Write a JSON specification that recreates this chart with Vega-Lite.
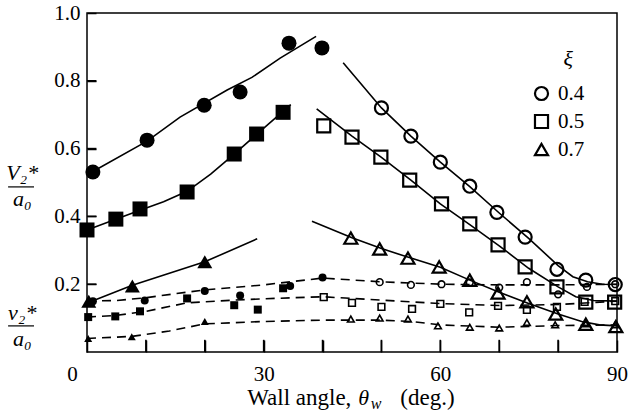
{
  "$schema": "https://vega.github.io/schema/vega-lite/v6.json",
  "width": 530,
  "height": 339,
  "autosize": {"type": "none"},
  "padding": {"left": 87, "top": 13, "right": 12, "bottom": 66},
  "background": "white",
  "config": {"view": {"stroke": "black", "strokeWidth": 1.5}, "font": "Liberation Serif"},
  "datasets": {
    "xticks": [{"v": 10}, {"v": 20}, {"v": 30}, {"v": 40}, {"v": 50}, {"v": 60}, {"v": 70}, {"v": 80}],
    "yticks": [{"v": 0.2}, {"v": 0.4}, {"v": 0.6}, {"v": 0.8}],
    "pts": [
      {"x": 1, "y": 0.531, "xi": "0.4", "kind": "V", "fill": "f"},
      {"x": 10.2, "y": 0.625, "xi": "0.4", "kind": "V", "fill": "f"},
      {"x": 19.9, "y": 0.728, "xi": "0.4", "kind": "V", "fill": "f"},
      {"x": 26, "y": 0.767, "xi": "0.4", "kind": "V", "fill": "f"},
      {"x": 34.3, "y": 0.911, "xi": "0.4", "kind": "V", "fill": "f"},
      {"x": 39.9, "y": 0.897, "xi": "0.4", "kind": "V", "fill": "f"},
      {"x": 50, "y": 0.72, "xi": "0.4", "kind": "V", "fill": "o"},
      {"x": 55, "y": 0.637, "xi": "0.4", "kind": "V", "fill": "o"},
      {"x": 60, "y": 0.56, "xi": "0.4", "kind": "V", "fill": "o"},
      {"x": 65, "y": 0.489, "xi": "0.4", "kind": "V", "fill": "o"},
      {"x": 69.6, "y": 0.412, "xi": "0.4", "kind": "V", "fill": "o"},
      {"x": 74.4, "y": 0.339, "xi": "0.4", "kind": "V", "fill": "o"},
      {"x": 79.8, "y": 0.244, "xi": "0.4", "kind": "V", "fill": "o"},
      {"x": 84.7, "y": 0.212, "xi": "0.4", "kind": "V", "fill": "o"},
      {"x": 89.7, "y": 0.199, "xi": "0.4", "kind": "V", "fill": "o"},
      {"x": 0, "y": 0.36, "xi": "0.5", "kind": "V", "fill": "f"},
      {"x": 4.9, "y": 0.392, "xi": "0.5", "kind": "V", "fill": "f"},
      {"x": 9, "y": 0.422, "xi": "0.5", "kind": "V", "fill": "f"},
      {"x": 17, "y": 0.472, "xi": "0.5", "kind": "V", "fill": "f"},
      {"x": 25, "y": 0.584, "xi": "0.5", "kind": "V", "fill": "f"},
      {"x": 28.8, "y": 0.643, "xi": "0.5", "kind": "V", "fill": "f"},
      {"x": 33.3, "y": 0.707, "xi": "0.5", "kind": "V", "fill": "f"},
      {"x": 40.2, "y": 0.667, "xi": "0.5", "kind": "V", "fill": "o"},
      {"x": 45, "y": 0.634, "xi": "0.5", "kind": "V", "fill": "o"},
      {"x": 49.9, "y": 0.575, "xi": "0.5", "kind": "V", "fill": "o"},
      {"x": 54.8, "y": 0.507, "xi": "0.5", "kind": "V", "fill": "o"},
      {"x": 60.2, "y": 0.437, "xi": "0.5", "kind": "V", "fill": "o"},
      {"x": 65, "y": 0.378, "xi": "0.5", "kind": "V", "fill": "o"},
      {"x": 69.8, "y": 0.316, "xi": "0.5", "kind": "V", "fill": "o"},
      {"x": 74.4, "y": 0.251, "xi": "0.5", "kind": "V", "fill": "o"},
      {"x": 79.8, "y": 0.192, "xi": "0.5", "kind": "V", "fill": "o"},
      {"x": 84.7, "y": 0.147, "xi": "0.5", "kind": "V", "fill": "o"},
      {"x": 89.6, "y": 0.147, "xi": "0.5", "kind": "V", "fill": "o"},
      {"x": 0.3, "y": 0.15, "xi": "0.7", "kind": "V", "fill": "f"},
      {"x": 7.7, "y": 0.195, "xi": "0.7", "kind": "V", "fill": "f"},
      {"x": 20, "y": 0.266, "xi": "0.7", "kind": "V", "fill": "f"},
      {"x": 44.8, "y": 0.336, "xi": "0.7", "kind": "V", "fill": "o"},
      {"x": 49.7, "y": 0.304, "xi": "0.7", "kind": "V", "fill": "o"},
      {"x": 54.5, "y": 0.277, "xi": "0.7", "kind": "V", "fill": "o"},
      {"x": 59.8, "y": 0.251, "xi": "0.7", "kind": "V", "fill": "o"},
      {"x": 65, "y": 0.212, "xi": "0.7", "kind": "V", "fill": "o"},
      {"x": 69.8, "y": 0.174, "xi": "0.7", "kind": "V", "fill": "o"},
      {"x": 74.7, "y": 0.148, "xi": "0.7", "kind": "V", "fill": "o"},
      {"x": 79.6, "y": 0.112, "xi": "0.7", "kind": "V", "fill": "o"},
      {"x": 84.7, "y": 0.082, "xi": "0.7", "kind": "V", "fill": "o"},
      {"x": 89.8, "y": 0.075, "xi": "0.7", "kind": "V", "fill": "o"},
      {"x": 1, "y": 0.15, "xi": "0.4", "kind": "v", "fill": "f"},
      {"x": 9.8, "y": 0.152, "xi": "0.4", "kind": "v", "fill": "f"},
      {"x": 20, "y": 0.18, "xi": "0.4", "kind": "v", "fill": "f"},
      {"x": 26, "y": 0.167, "xi": "0.4", "kind": "v", "fill": "f"},
      {"x": 34.5, "y": 0.195, "xi": "0.4", "kind": "v", "fill": "f"},
      {"x": 40, "y": 0.22, "xi": "0.4", "kind": "v", "fill": "f"},
      {"x": 49.7, "y": 0.206, "xi": "0.4", "kind": "v", "fill": "o"},
      {"x": 55, "y": 0.198, "xi": "0.4", "kind": "v", "fill": "o"},
      {"x": 60.2, "y": 0.2, "xi": "0.4", "kind": "v", "fill": "o"},
      {"x": 65, "y": 0.205, "xi": "0.4", "kind": "v", "fill": "o"},
      {"x": 70, "y": 0.19, "xi": "0.4", "kind": "v", "fill": "o"},
      {"x": 74.7, "y": 0.206, "xi": "0.4", "kind": "v", "fill": "o"},
      {"x": 80, "y": 0.17, "xi": "0.4", "kind": "v", "fill": "o"},
      {"x": 84.9, "y": 0.192, "xi": "0.4", "kind": "v", "fill": "o"},
      {"x": 89.7, "y": 0.2, "xi": "0.4", "kind": "v", "fill": "o"},
      {"x": 0.2, "y": 0.103, "xi": "0.5", "kind": "v", "fill": "f"},
      {"x": 4.8, "y": 0.105, "xi": "0.5", "kind": "v", "fill": "f"},
      {"x": 9, "y": 0.12, "xi": "0.5", "kind": "v", "fill": "f"},
      {"x": 17, "y": 0.158, "xi": "0.5", "kind": "v", "fill": "f"},
      {"x": 25, "y": 0.138, "xi": "0.5", "kind": "v", "fill": "f"},
      {"x": 29, "y": 0.125, "xi": "0.5", "kind": "v", "fill": "f"},
      {"x": 33.3, "y": 0.188, "xi": "0.5", "kind": "v", "fill": "f"},
      {"x": 40.2, "y": 0.162, "xi": "0.5", "kind": "v", "fill": "o"},
      {"x": 45, "y": 0.145, "xi": "0.5", "kind": "v", "fill": "o"},
      {"x": 50, "y": 0.133, "xi": "0.5", "kind": "v", "fill": "o"},
      {"x": 55.2, "y": 0.127, "xi": "0.5", "kind": "v", "fill": "o"},
      {"x": 60, "y": 0.142, "xi": "0.5", "kind": "v", "fill": "o"},
      {"x": 64.9, "y": 0.117, "xi": "0.5", "kind": "v", "fill": "o"},
      {"x": 69.8, "y": 0.136, "xi": "0.5", "kind": "v", "fill": "o"},
      {"x": 74.7, "y": 0.124, "xi": "0.5", "kind": "v", "fill": "o"},
      {"x": 79.8, "y": 0.133, "xi": "0.5", "kind": "v", "fill": "o"},
      {"x": 84.5, "y": 0.148, "xi": "0.5", "kind": "v", "fill": "o"},
      {"x": 89.7, "y": 0.15, "xi": "0.5", "kind": "v", "fill": "o"},
      {"x": 0.2, "y": 0.04, "xi": "0.7", "kind": "v", "fill": "f"},
      {"x": 7.6, "y": 0.045, "xi": "0.7", "kind": "v", "fill": "f"},
      {"x": 20, "y": 0.09, "xi": "0.7", "kind": "v", "fill": "f"},
      {"x": 44.8, "y": 0.097, "xi": "0.7", "kind": "v", "fill": "o"},
      {"x": 49.7, "y": 0.1, "xi": "0.7", "kind": "v", "fill": "o"},
      {"x": 54.5, "y": 0.097, "xi": "0.7", "kind": "v", "fill": "o"},
      {"x": 59.6, "y": 0.077, "xi": "0.7", "kind": "v", "fill": "o"},
      {"x": 65, "y": 0.073, "xi": "0.7", "kind": "v", "fill": "o"},
      {"x": 70, "y": 0.071, "xi": "0.7", "kind": "v", "fill": "o"},
      {"x": 74.7, "y": 0.087, "xi": "0.7", "kind": "v", "fill": "o"},
      {"x": 79.5, "y": 0.08, "xi": "0.7", "kind": "v", "fill": "o"},
      {"x": 84.7, "y": 0.083, "xi": "0.7", "kind": "v", "fill": "o"},
      {"x": 89.7, "y": 0.08, "xi": "0.7", "kind": "v", "fill": "o"}
    ],
    "curves": [
      {"seg": "c1", "kind": "V", "x": 0.85, "y": 0.531},
      {"seg": "c1", "kind": "V", "x": 10.2, "y": 0.622},
      {"seg": "c1", "kind": "V", "x": 15.8, "y": 0.693},
      {"seg": "c1", "kind": "V", "x": 23.8, "y": 0.773},
      {"seg": "c1", "kind": "V", "x": 28, "y": 0.81},
      {"seg": "c1", "kind": "V", "x": 32.8, "y": 0.867},
      {"seg": "c1", "kind": "V", "x": 38.9, "y": 0.931},
      {"seg": "c2", "kind": "V", "x": 43.5, "y": 0.853},
      {"seg": "c2", "kind": "V", "x": 50, "y": 0.72},
      {"seg": "c2", "kind": "V", "x": 55, "y": 0.637},
      {"seg": "c2", "kind": "V", "x": 60, "y": 0.56},
      {"seg": "c2", "kind": "V", "x": 65, "y": 0.488},
      {"seg": "c2", "kind": "V", "x": 70, "y": 0.41},
      {"seg": "c2", "kind": "V", "x": 75, "y": 0.335},
      {"seg": "c2", "kind": "V", "x": 80, "y": 0.255},
      {"seg": "c2", "kind": "V", "x": 82.5, "y": 0.222},
      {"seg": "c2", "kind": "V", "x": 85, "y": 0.207},
      {"seg": "c2", "kind": "V", "x": 87.5, "y": 0.2},
      {"seg": "c2", "kind": "V", "x": 90, "y": 0.199},
      {"seg": "c3", "kind": "V", "x": 0, "y": 0.36},
      {"seg": "c3", "kind": "V", "x": 5, "y": 0.392},
      {"seg": "c3", "kind": "V", "x": 9, "y": 0.418},
      {"seg": "c3", "kind": "V", "x": 13, "y": 0.443},
      {"seg": "c3", "kind": "V", "x": 17, "y": 0.474},
      {"seg": "c3", "kind": "V", "x": 21, "y": 0.525},
      {"seg": "c3", "kind": "V", "x": 25, "y": 0.584},
      {"seg": "c3", "kind": "V", "x": 29, "y": 0.645},
      {"seg": "c3", "kind": "V", "x": 34.6, "y": 0.73},
      {"seg": "c4", "kind": "V", "x": 39, "y": 0.717},
      {"seg": "c4", "kind": "V", "x": 45, "y": 0.637},
      {"seg": "c4", "kind": "V", "x": 50, "y": 0.574},
      {"seg": "c4", "kind": "V", "x": 55, "y": 0.507},
      {"seg": "c4", "kind": "V", "x": 60, "y": 0.437},
      {"seg": "c4", "kind": "V", "x": 65, "y": 0.376},
      {"seg": "c4", "kind": "V", "x": 70, "y": 0.313},
      {"seg": "c4", "kind": "V", "x": 75, "y": 0.247},
      {"seg": "c4", "kind": "V", "x": 80, "y": 0.192},
      {"seg": "c4", "kind": "V", "x": 83, "y": 0.163},
      {"seg": "c4", "kind": "V", "x": 86, "y": 0.152},
      {"seg": "c4", "kind": "V", "x": 90, "y": 0.15},
      {"seg": "c5", "kind": "V", "x": 0.8, "y": 0.15},
      {"seg": "c5", "kind": "V", "x": 7.7, "y": 0.197},
      {"seg": "c5", "kind": "V", "x": 20, "y": 0.266},
      {"seg": "c5", "kind": "V", "x": 28.9, "y": 0.334},
      {"seg": "c6", "kind": "V", "x": 38.2, "y": 0.386},
      {"seg": "c6", "kind": "V", "x": 45, "y": 0.337},
      {"seg": "c6", "kind": "V", "x": 50, "y": 0.305},
      {"seg": "c6", "kind": "V", "x": 55, "y": 0.277},
      {"seg": "c6", "kind": "V", "x": 60, "y": 0.25},
      {"seg": "c6", "kind": "V", "x": 65, "y": 0.212},
      {"seg": "c6", "kind": "V", "x": 70, "y": 0.176},
      {"seg": "c6", "kind": "V", "x": 75, "y": 0.143},
      {"seg": "c6", "kind": "V", "x": 80, "y": 0.112},
      {"seg": "c6", "kind": "V", "x": 84, "y": 0.09},
      {"seg": "c6", "kind": "V", "x": 87, "y": 0.08},
      {"seg": "c6", "kind": "V", "x": 90, "y": 0.077},
      {"seg": "d1", "kind": "v", "x": 0, "y": 0.15},
      {"seg": "d1", "kind": "v", "x": 5, "y": 0.152},
      {"seg": "d1", "kind": "v", "x": 10, "y": 0.16},
      {"seg": "d1", "kind": "v", "x": 15, "y": 0.172},
      {"seg": "d1", "kind": "v", "x": 20, "y": 0.183},
      {"seg": "d1", "kind": "v", "x": 30, "y": 0.198},
      {"seg": "d1", "kind": "v", "x": 40, "y": 0.218},
      {"seg": "d1", "kind": "v", "x": 50, "y": 0.207},
      {"seg": "d1", "kind": "v", "x": 60, "y": 0.2},
      {"seg": "d1", "kind": "v", "x": 70, "y": 0.198},
      {"seg": "d1", "kind": "v", "x": 80, "y": 0.198},
      {"seg": "d1", "kind": "v", "x": 90, "y": 0.2},
      {"seg": "d2", "kind": "v", "x": 0, "y": 0.103},
      {"seg": "d2", "kind": "v", "x": 5, "y": 0.108},
      {"seg": "d2", "kind": "v", "x": 10, "y": 0.12},
      {"seg": "d2", "kind": "v", "x": 17, "y": 0.145},
      {"seg": "d2", "kind": "v", "x": 25, "y": 0.153},
      {"seg": "d2", "kind": "v", "x": 30, "y": 0.157},
      {"seg": "d2", "kind": "v", "x": 40, "y": 0.163},
      {"seg": "d2", "kind": "v", "x": 50, "y": 0.153},
      {"seg": "d2", "kind": "v", "x": 60, "y": 0.143},
      {"seg": "d2", "kind": "v", "x": 70, "y": 0.137},
      {"seg": "d2", "kind": "v", "x": 80, "y": 0.14},
      {"seg": "d2", "kind": "v", "x": 90, "y": 0.15},
      {"seg": "d3", "kind": "v", "x": 0, "y": 0.04},
      {"seg": "d3", "kind": "v", "x": 7.6, "y": 0.046},
      {"seg": "d3", "kind": "v", "x": 14, "y": 0.062},
      {"seg": "d3", "kind": "v", "x": 20, "y": 0.083},
      {"seg": "d3", "kind": "v", "x": 30, "y": 0.09},
      {"seg": "d3", "kind": "v", "x": 40, "y": 0.094},
      {"seg": "d3", "kind": "v", "x": 50, "y": 0.094},
      {"seg": "d3", "kind": "v", "x": 55, "y": 0.09},
      {"seg": "d3", "kind": "v", "x": 60, "y": 0.08},
      {"seg": "d3", "kind": "v", "x": 70, "y": 0.073},
      {"seg": "d3", "kind": "v", "x": 80, "y": 0.078},
      {"seg": "d3", "kind": "v", "x": 90, "y": 0.08}
    ],
    "ann_reg": [
      {"x": 27.2, "y": -0.155, "t": "Wall angle, "},
      {"x": 53.2, "y": -0.155, "t": "(deg.)"}
    ],
    "ann_ital": [
      {"x": 47.0, "y": -0.155, "t": "θ"},
      {"x": 81.7, "y": 0.845, "t": "ξ"},
      {"x": -11.0, "y": 0.507, "t": "V₂*"},
      {"x": -11.0, "y": 0.43, "t": "a₀"},
      {"x": -11.0, "y": 0.095, "t": "v₂*"},
      {"x": -11.0, "y": 0.017, "t": "a₀"}
    ],
    "ann_sub": [
      {"x": 48.2, "y": -0.167, "t": "w"}
    ],
    "bars": [
      {"x": -13.4, "x2": -9.0, "y": 0.487},
      {"x": -13.4, "x2": -9.0, "y": 0.077}
    ]
  },
  "layer": [
    {
      "data": {"name": "curves"},
      "transform": [{"filter": "datum.kind === 'V'"}],
      "mark": {"type": "line", "color": "black", "strokeWidth": 1.6},
      "encoding": {
        "x": {"field": "x", "type": "quantitative", "scale": {"domain": [0, 90], "nice": false, "zero": false},
          "axis": {"title": null, "values": [0, 10, 20, 30, 40, 50, 60, 70, 80, 90],
            "labelExpr": "datum.value % 30 === 0 ? datum.label : ''", "labelFlush": false,
            "offset": -12, "ticks": true, "tickSize": 12, "tickColor": "#000000", "tickWidth": 1.5, "tickOpacity": 1, "domain": false, "grid": false, "zindex": 2,
            "labelFont": "Liberation Serif", "labelFontSize": 21, "labelColor": "black", "labelPadding": 11,
            "labelOffset": {"condition": {"test": "datum.value === 0", "value": -15}, "value": 0}}},
        "y": {"field": "y", "type": "quantitative", "scale": {"domain": [0, 1], "nice": false},
          "axis": {"title": null, "values": [0.2, 0.4, 0.6, 0.8, 1.0], "format": ".1f",
            "offset": -9, "ticks": true, "tickSize": 9, "tickColor": "#000000", "tickWidth": 1.5, "tickOpacity": 1, "domain": false, "grid": false, "zindex": 2,
            "labelFont": "Liberation Serif", "labelFontSize": 21, "labelColor": "black", "labelPadding": 7}},
        "detail": {"field": "seg"}
      }
    },
    {
      "data": {"name": "xticks"},
      "mark": {"type": "rule", "color": "black", "strokeWidth": 1.6, "opacity": 1},
      "encoding": {
        "x": {"field": "v", "type": "quantitative"},
        "y": {"datum": 0, "type": "quantitative"},
        "y2": {"datum": 0.036}
      }
    },
    {
      "data": {"name": "yticks"},
      "mark": {"type": "rule", "color": "black", "strokeWidth": 1.6, "opacity": 1},
      "encoding": {
        "y": {"field": "v", "type": "quantitative"},
        "x": {"datum": 0, "type": "quantitative"},
        "x2": {"datum": 1.6}
      }
    },
    {
      "data": {"name": "curves"},
      "transform": [{"filter": "datum.kind === 'v'"}],
      "mark": {"type": "line", "color": "black", "strokeWidth": 1.6, "strokeDash": [9, 6]},
      "encoding": {
        "x": {"field": "x", "type": "quantitative"},
        "y": {"field": "y", "type": "quantitative"},
        "detail": {"field": "seg"}
      }
    },
    {
      "data": {"name": "pts"},
      "transform": [{"filter": "datum.kind === 'V' && datum.fill === 'o'"}],
      "mark": {"type": "point", "filled": false, "stroke": "black", "strokeWidth": 2.2, "size": 170, "opacity": 1},
      "encoding": {
        "x": {"field": "x", "type": "quantitative"},
        "y": {"field": "y", "type": "quantitative"},
        "shape": {"field": "xi", "type": "nominal",
          "scale": {"domain": ["0.4", "0.5", "0.7"], "range": ["circle", "square", "triangle-up"]},
          "legend": {"title": null, "orient": "none", "legendX": 444, "legendY": 70, "padding": 0,
            "labelFont": "Liberation Serif", "labelFontSize": 21, "labelColor": "black", "labelOffset": 6,
            "symbolSize": 170, "symbolStrokeWidth": 2.2, "symbolFillColor": "white", "symbolStrokeColor": "black", "rowPadding": 5}}
      }
    },
    {
      "data": {"name": "pts"},
      "transform": [{"filter": "datum.kind === 'V' && datum.fill === 'f'"}],
      "mark": {"type": "point", "filled": true, "color": "black", "size": 225, "opacity": 1},
      "encoding": {
        "x": {"field": "x", "type": "quantitative"},
        "y": {"field": "y", "type": "quantitative"},
        "shape": {"field": "xi", "type": "nominal"}
      }
    },
    {
      "data": {"name": "pts"},
      "transform": [{"filter": "datum.kind === 'v' && datum.fill === 'f'"}],
      "mark": {"type": "point", "filled": true, "color": "black", "size": 64, "opacity": 1},
      "encoding": {
        "x": {"field": "x", "type": "quantitative"},
        "y": {"field": "y", "type": "quantitative"},
        "shape": {"field": "xi", "type": "nominal"}
      }
    },
    {
      "data": {"name": "pts"},
      "transform": [{"filter": "datum.kind === 'v' && datum.fill === 'o'"}],
      "mark": {"type": "point", "filled": false, "stroke": "black", "strokeWidth": 1.6, "size": 45, "opacity": 1},
      "encoding": {
        "x": {"field": "x", "type": "quantitative"},
        "y": {"field": "y", "type": "quantitative"},
        "shape": {"field": "xi", "type": "nominal"}
      }
    },
    {
      "data": {"name": "bars"},
      "mark": {"type": "rule", "color": "black", "strokeWidth": 1.2},
      "encoding": {
        "x": {"field": "x", "type": "quantitative"},
        "x2": {"field": "x2"},
        "y": {"field": "y", "type": "quantitative"}
      }
    },
    {
      "data": {"name": "ann_reg"},
      "mark": {"type": "text", "font": "Liberation Serif", "fontSize": 23, "color": "black", "align": "left", "baseline": "alphabetic"},
      "encoding": {
        "x": {"field": "x", "type": "quantitative"},
        "y": {"field": "y", "type": "quantitative"},
        "text": {"field": "t"}
      }
    },
    {
      "data": {"name": "ann_ital"},
      "mark": {"type": "text", "font": "Liberation Serif", "fontStyle": "italic", "fontSize": 22, "color": "black", "align": "center", "baseline": "alphabetic"},
      "encoding": {
        "x": {"field": "x", "type": "quantitative"},
        "y": {"field": "y", "type": "quantitative"},
        "text": {"field": "t"}
      }
    },
    {
      "data": {"name": "ann_sub"},
      "mark": {"type": "text", "font": "Liberation Serif", "fontStyle": "italic", "fontSize": 16, "color": "black", "align": "left", "baseline": "alphabetic"},
      "encoding": {
        "x": {"field": "x", "type": "quantitative"},
        "y": {"field": "y", "type": "quantitative"},
        "text": {"field": "t"}
      }
    }
  ]
}
